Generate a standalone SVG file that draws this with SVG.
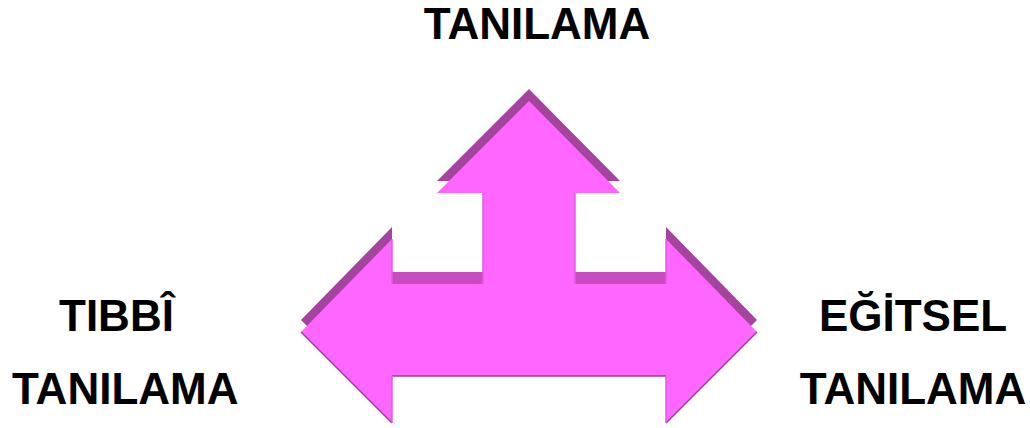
<svg xmlns="http://www.w3.org/2000/svg" width="1030" height="428" viewBox="0 0 1030 428">
<style>
.lbl{font-family:"Liberation Sans",Arial,sans-serif;font-weight:bold;font-size:44px;fill:#000}
.back{fill:#A5449F}
.flat{fill:#C84CC0}
.front{fill:#FF66FF}
.shade{fill:none;stroke:#9C3C98;stroke-width:1.5}
.hi{fill:none;stroke:#E05CE0;stroke-width:1.5}
</style>
<rect width="1030" height="428" fill="#fff"/>
<g id="arrow">
<polygon class="back" points="529,89 620,181 575,181 575,272 666,272 666,227 757,320 666,411 666,364 392,364 392,411 301,320 392,227 392,272 483,272 483,181 437,181"/>
<rect class="flat" x="392" y="272" width="91" height="12"/>
<rect class="flat" x="575" y="272" width="91" height="12"/>
<polygon class="front" points="529,101 620,193 575,193 575,284 666,284 666,239 757,332 666,423 666,376 392,376 392,423 301,332 392,239 392,284 483,284 483,193 437,193"/>
<polyline class="shade" points="301,332 392,423"/>
<polyline class="shade" points="757,332 666,423"/>
<polyline class="shade" points="392,376 666,376"/>
<polyline class="hi" points="483,193 483,284"/>
<polyline class="hi" points="575,193 575,284"/>
<polyline class="hi" points="392,239 392,284"/>
<polyline class="hi" points="666,239 666,284"/>
<polyline class="hi" points="392,376 392,423"/>
<polyline class="hi" points="666,376 666,423"/>
</g>
<g id="top-label"><text class="lbl" x="537" y="39" text-anchor="middle">TANILAMA</text></g>
<g id="left-label">
<text class="lbl" x="59" y="331">TIBBÎ</text>
<text class="lbl" x="12" y="404">TANILAMA</text>
</g>
<g id="right-label">
<text class="lbl" x="913" y="331" text-anchor="middle">EĞİTSEL</text>
<text class="lbl" x="913" y="404" text-anchor="middle">TANILAMA</text>
</g>
</svg>
